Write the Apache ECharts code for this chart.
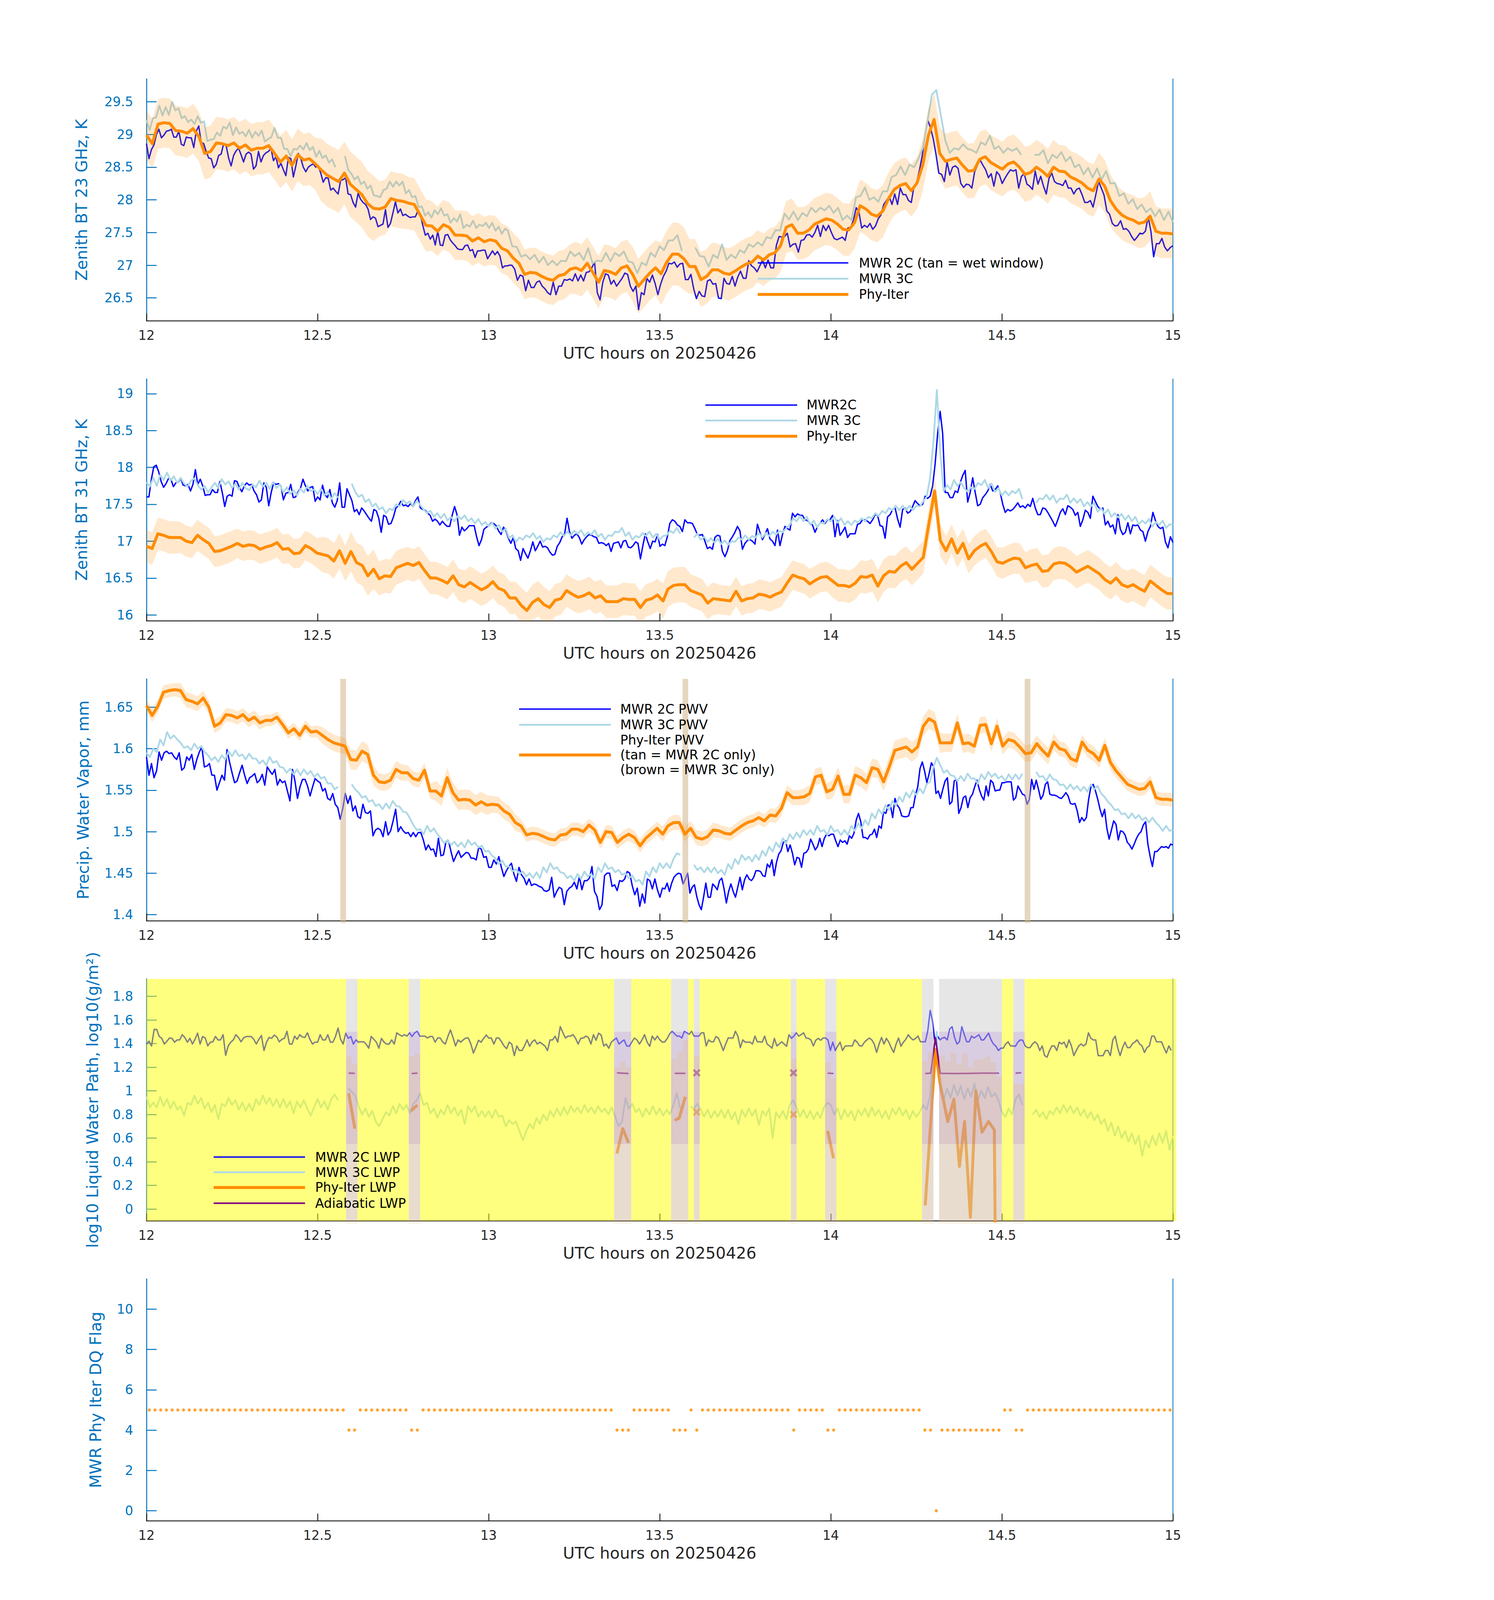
<!DOCTYPE html>
<html><head><meta charset="utf-8">
<script src="https://cdn.jsdelivr.net/npm/echarts@6/dist/echarts.min.js"></script>
<style>html,body{margin:0;padding:0;background:#fff;overflow:hidden}#c{width:3825px;height:6000px}</style>
</head><body><div id="c"></div>
<script>
// ---------------- DATA ----------------
// Panel 1: Zenith BT 23 GHz
const bt23_2c_a = [28.86,28.63,28.77,28.84,29.0,29.08,28.95,28.99,29.05,29.06,29.08,28.96,28.96,29.05,28.85,28.83,28.96,28.95,28.95,28.8,29.05,29.13,28.88,28.86,28.74,28.64,28.63,28.49,28.54,28.68,28.7,28.86,28.83,28.64,28.52,28.68,28.75,28.79,28.69,28.58,28.7,28.73,28.7,28.47,28.52,28.74,28.58,28.68,28.72,28.74,28.79,28.6,28.66,28.49,28.56,28.46,28.37,28.65,28.63,28.35,28.52,28.71,28.63,28.5,28.43,28.5,28.53,28.55,28.5,28.52,28.41,28.27,28.34,28.33,28.15,28.18,28.13,28.09,28.3,28.31,28.34,28.09,28.08,27.96,27.89,28.1,28.01,27.96,27.93,27.86,27.7,27.74,27.72,27.59,27.61,27.63,27.85,27.58,27.64,27.8,27.97,27.8,27.86,27.76,27.78,27.75,27.73,27.74,27.74,27.83,27.77,27.61,27.46,27.49,27.4,27.46,27.31,27.52,27.31,27.3,27.46,27.47,27.39,27.34,27.3,27.25,27.24,27.24,27.3,27.31,27.22,27.24,27.12,27.22,27.22,27.23,27.23,27.1,27.16,27.22,27.16,27.21,27.14,26.96,26.99,26.99];
const bt23_2c_b = [27.0,27.0,26.94,26.77,26.85,26.83,26.61,26.77,26.66,26.66,26.74,26.76,26.68,26.64,26.58,26.55,26.74,26.55,26.68,26.68,26.78,26.77,26.79,26.76,26.87,26.76,26.85,26.76,26.89,26.9,26.96,27.05,26.58,26.47,26.74,26.87,26.85,26.71,26.77,26.68,26.74,26.8,26.88,26.86,26.68,26.6,26.68,26.32,26.58,26.55,26.8,26.74,26.85,26.72,26.55,26.71,26.83,26.91,27.03,27.02,27.05,26.97,27.02,27.03,26.78,26.78,26.86,26.64,26.49,26.6,26.53,26.52,26.76,26.78,26.71,26.72,26.5,26.49,26.8,26.72,26.71,26.83,26.68,26.82,26.91,26.8,26.8,27.07,26.99,26.96,26.9,26.99,27.08,26.96,27.08,26.96,26.96,27.3,27.44,27.43,27.44,27.49,27.28,27.32,27.33,27.2,27.38,27.39,27.46,27.47,27.43,27.5,27.61,27.44,27.61,27.53,27.61,27.5,27.41,27.39,27.41,27.43,27.38,27.57,27.58,27.69,27.88,27.81,27.57,27.61,27.58,27.64,27.55,27.6,27.71,27.77,27.93,27.99,28.05,27.93,28.09,27.93,28.18,28.08,28.08,27.99,27.96,28.21,28.27,28.46,28.68,28.99,29.22,29.1,28.93,28.69,28.41,28.39,28.28,28.58,28.38,28.5,28.52,28.48,28.25,28.19,28.24,28.23,28.18,28.43,28.53,28.61,28.53,28.46,28.34,28.4,28.21,28.43,28.38,28.25,28.33,28.4,28.46,28.44,28.46,28.18,28.36,28.4,28.24,28.21,28.16,28.44,28.24,28.36,28.21,28.09,28.33,28.41,28.28,28.25,28.24,28.22,28.3,28.18,28.18,28.09,28.16,28.18,28.08,27.96,27.96,27.99,27.89,28.08,28.28,28.18,28.07,27.83,27.78,27.64,27.6,27.61,27.68,27.55,27.56,27.52,27.44,27.38,27.43,27.49,27.48,27.52,27.74,27.52,27.13,27.33,27.33,27.41,27.28,27.22,27.27,27.3];
const bt23_3c_a = [29.22,29.07,29.25,29.26,29.44,29.29,29.42,29.3,29.5,29.37,29.4,29.25,29.28,29.19,29.23,29.16,29.28,29.18,29.2,28.9,28.92,28.93,29.03,28.98,29.12,29.09,29.18,28.99,29.11,29.01,29.04,28.97,29.07,28.95,29.04,28.98,29.06,28.89,28.93,28.96,29.1,28.95,28.95,28.78,28.78,28.67,28.78,28.77,28.83,28.77,28.87,28.76,28.81,28.66,28.75,28.64,28.68,28.57,28.62,28.5,null,null,28.67,28.46,28.4,28.31,28.36,28.24,28.28,28.17,28.22,28.07,28.06,28.04,28.15,28.17,28.28,28.2,28.28,28.22,28.28,28.1,28.15,28.04,28.06,27.89,27.9,27.76,27.81,27.73,27.84,27.78,27.87,27.76,27.78,27.65,27.72,27.67,27.78,27.57,27.62,27.59,27.68,27.57,27.62,27.6,27.65,27.57,27.65,27.53,27.59,27.48,27.56];
const bt23_3c_b = [27.53,27.29,27.28,27.13,27.16,27.09,27.16,27.04,27.13,27.0,27.07,27.0,27.07,27.06,27.21,27.14,27.19,27.08,27.26,27.03,27.07,27.06,27.19,27.06,27.19,27.14,27.21,27.06,27.04,26.88,27.04,27.0,27.19,27.13,27.29,27.23,27.38,27.38,27.46,27.22,null,null,27.27,27.14,27.13,26.98,27.16,27.11,27.32,27.08,27.16,27.11,27.23,27.19,27.32,27.28,27.35,27.3,27.43,27.41,27.54,27.53,27.79,27.7,27.82,27.69,27.8,27.75,27.88,27.81,27.88,27.84,27.91,27.8,27.88,27.69,27.76,27.69,28.04,28.06,28.19,28.0,28.04,27.97,28.13,28.13,28.35,28.38,28.51,28.38,28.54,28.5,28.63,28.8,29.2,29.61,29.68,29.3,28.91,28.72,28.79,28.77,28.85,28.78,28.76,28.72,28.88,28.84,28.98,28.78,28.82,28.72,28.79,28.75,28.79,28.69,null,null,28.69,28.69,28.76,28.56,28.69,28.64,28.73,28.59,28.66,28.5,28.54,28.39,28.49,28.34,28.48,28.31,28.44,28.25,28.26,28.06,28.1,27.94,28.01,27.86,27.93,27.81,27.87,27.75,27.85,27.69,27.82,27.66];
const bt23_phy_a = [28.99,28.86,29.16,29.18,29.17,29.06,29.05,29.02,29.09,28.97,28.71,28.74,28.87,28.86,28.83,28.87,28.79,28.84,28.76,28.79,28.79,28.83,28.71,28.58,28.67,28.53,28.69,28.61,28.63,28.55,28.46,28.38,28.33,28.28,28.41,28.24,28.16,28.08,27.94,27.87,27.86,27.89,28.02,27.99,27.98,27.95,27.93,27.77,27.61,27.6,27.52,27.62,27.58,27.46,27.46,27.45,27.37,27.42,27.36,27.39,27.37,27.26,27.22];
const bt23_phy_b = [27.11,27.03,26.86,26.89,26.88,26.83,26.79,26.77,26.84,26.86,26.94,26.96,26.92,27.03,26.89,26.74,26.92,26.9,26.86,26.96,26.99,26.86,26.68,26.78,26.88,26.96,26.87,27.05,27.17,27.17,27.1,26.98,26.98,26.78,26.83,26.93,26.93,26.88,26.86,26.91,26.97,27.02,27.05,27.14,27.08,27.16,27.19,27.3,27.58,27.62,27.49,27.49,27.54,27.63,27.67,27.71,27.69,27.63,27.55,27.54,27.65,27.91,27.86,27.78,27.75,27.83,28.02,28.16,28.22,28.25,28.14,28.26,28.53,28.99,29.23,28.71,28.59,28.62,28.64,28.53,28.44,28.45,28.62,28.66,28.57,28.52,28.47,28.55,28.58,28.5,28.39,28.42,28.5,28.44,28.36,28.5,28.44,28.43,28.35,28.31,28.26,28.18,28.14,28.32,28.21,27.99,27.86,27.77,27.72,27.69,27.64,27.66,27.75,27.52,27.49,27.49,27.48];
const bt23_sigma = [0.38,0.38,0.4,0.4,0.4,0.4,0.48,0.5,0.42,0.4,0.38,0.38,0.38,0.38,0.38,0.4,0.4,0.42,0.48,0.42,0.4,0.4,0.4,0.4,0.4,0.4,0.4,0.4,0.42,0.42,0.42,0.42,0.4,0.4,0.38,0.38,0.38];

// Panel 2: Zenith BT 31 GHz
const bt31_2c_a = [17.6,17.6,17.84,18.01,18.03,17.94,17.81,17.73,17.78,17.85,17.84,17.74,17.79,17.8,17.85,17.76,17.75,17.77,17.68,17.77,17.97,17.77,17.84,17.75,17.62,17.63,17.63,17.7,17.66,17.66,17.81,17.66,17.47,17.61,17.63,17.61,17.82,17.81,17.73,17.67,17.75,17.79,17.76,17.77,17.68,17.63,17.53,17.56,17.79,17.73,17.48,17.66,17.79,17.77,17.78,17.75,17.56,17.65,17.66,17.77,17.59,17.6,17.67,17.72,17.84,17.75,17.68,17.73,17.74,17.54,17.6,17.56,17.76,17.63,17.59,17.7,17.52,17.46,17.55,17.79,17.46,17.46,17.71,17.63,17.55,17.4,17.43,17.36,17.45,17.41,17.36,17.31,17.27,17.43,17.41,17.31,17.12,17.35,17.33,17.23,17.24,17.33,17.45,17.48,17.54,17.48,17.49,17.47,17.51,17.47,17.55,17.6,17.45,17.43,17.42,17.38,17.35,17.27,17.3,17.27,17.22,17.27,17.23,17.2,17.2,17.35,17.47,17.36,17.08,17.19,17.14,17.17,17.21,17.21,17.21,17.06,16.94,17.02,17.16,17.19,17.21,17.25,17.24,17.21,17.14,17.09,17.19,17.14,17.04,16.97,17.05,16.9,16.87,16.74,16.9,16.83,16.77,16.87,16.99,16.87,16.93,17.0,16.92,16.93,16.91,16.85,16.81,16.82,16.93,16.98,17.06,17.1,17.31,17.13,17.04,17.08,17.1,17.05,16.96,17.02,17.06,17.09,17.08,17.06,17.05,16.97,16.98,16.97,16.94,16.97,16.86,16.97,16.98,16.99,16.91,17.0,17.01,16.92,16.91,16.94,16.99,16.97,16.76,16.94,17.1,16.99,16.9,17.0,16.99,17.09,16.93,16.96];
const bt31_2c_b = [16.94,17.06,17.24,17.29,17.27,17.22,17.2,17.13,17.29,17.25,17.25,17.24,17.17,17.09,17.08,17.09,17.0,16.9,16.92,16.89,17.05,17.08,17.07,16.86,16.79,16.87,17.01,17.06,17.12,17.2,17.14,16.89,16.97,17.01,17.02,17.0,16.96,17.23,17.12,17.02,17.09,17.17,17.03,17.0,16.94,17.15,16.94,17.09,17.2,17.17,17.15,17.38,17.33,17.37,17.35,17.35,17.29,17.28,17.24,17.22,17.12,17.2,17.24,17.29,17.24,17.29,17.29,17.35,17.06,17.28,17.08,17.13,17.19,17.05,17.1,17.1,17.1,17.23,17.24,17.29,17.29,17.27,17.24,17.29,17.36,17.35,17.21,17.2,17.04,17.33,17.36,17.43,17.45,17.3,17.19,17.43,17.45,17.38,17.4,17.47,17.55,17.51,17.48,17.5,17.61,17.58,17.61,17.75,18.05,18.46,18.76,18.46,17.66,17.66,17.59,17.59,17.68,17.66,17.79,17.89,17.96,17.53,17.66,17.86,17.66,17.48,17.5,17.59,17.63,17.68,17.77,17.68,17.7,17.75,17.66,17.5,17.39,17.43,17.41,17.43,17.47,17.52,17.46,17.48,17.45,17.5,17.47,17.58,17.45,17.36,17.36,17.45,17.44,17.39,17.33,17.27,17.2,17.29,17.39,17.44,17.36,17.48,17.46,17.43,17.35,17.39,17.2,17.29,17.42,17.39,17.31,17.61,17.54,17.47,17.43,17.45,17.22,17.27,17.19,17.22,17.1,17.36,17.16,17.09,17.12,17.25,17.1,17.22,17.21,17.22,17.15,17.13,17.0,17.13,17.2,17.39,17.28,17.2,17.17,17.19,16.99,16.91,17.06,16.98];
const bt31_3c = [17.8,17.74,17.86,17.75,17.9,17.83,17.93,17.82,17.88,17.79,
17.86,17.78,17.74,17.82,17.85,17.76,17.7,17.75,17.66,17.73,
17.79,17.72,17.84,17.77,17.81,17.72,17.78,17.7,17.79,17.72,
17.69,17.77,17.73,17.82,17.74,17.79,17.71,17.8,17.72,17.77,
17.66,17.73,17.64,17.69,17.62,17.71,17.66,17.75,17.68,17.7,
17.64,17.71,17.62,17.67,17.57,17.65,17.59,null,null,null,
17.78,17.67,17.6,17.63,17.53,17.57,17.47,17.51,17.43,17.46,
17.38,17.44,17.42,17.5,17.47,17.56,17.51,17.54,17.47,17.55,
17.49,17.43,17.38,17.41,17.33,17.38,17.31,17.37,17.28,17.33,
17.27,17.34,17.3,17.35,17.27,17.31,17.24,17.3,17.22,17.26,
17.2,17.25,17.17,17.22,17.13,17.17,17.04,17.08,16.99,17.05,
17.02,17.08,17.05,17.11,17.03,17.07,16.99,17.04,17.02,17.08,
17.05,17.12,17.07,17.13,17.08,17.14,17.1,17.15,17.07,17.12,
17.09,17.15,17.06,17.1,17.02,17.08,17.07,17.13,17.12,17.18,
17.07,17.12,17.02,17.07,17.05,17.11,17.07,17.13,17.05,17.1,
17.02,17.07,17.08,17.14,17.11,17.18,17.1,null,null,null,
17.05,17.1,17.02,17.06,16.99,17.04,16.98,17.03,16.96,17.01,
16.95,17.0,16.99,17.05,17.02,17.08,17.02,17.07,17.05,17.11,
17.05,17.11,17.07,17.13,17.09,17.14,17.12,17.18,17.22,17.31,
17.27,17.34,17.27,17.33,17.22,17.28,17.19,17.25,17.24,17.3,
17.27,17.33,17.25,17.31,17.22,17.27,17.22,17.28,17.25,17.31,
17.27,17.33,17.31,17.38,17.34,17.41,17.38,17.45,17.42,17.48,
17.42,17.48,17.42,17.48,17.42,17.48,17.47,17.54,17.6,17.85,
18.35,19.05,18.2,17.68,17.76,17.7,17.83,17.75,17.8,17.72,
17.67,17.73,17.71,17.79,17.76,17.83,17.72,17.78,17.67,17.72,
17.62,17.68,17.62,17.68,17.65,17.71,17.57,null,null,null,
17.52,17.58,17.57,17.63,17.56,17.62,17.52,17.58,17.57,17.63,
17.52,17.58,17.52,17.57,17.47,17.53,17.47,17.52,17.4,17.45,
17.37,17.43,17.33,17.38,17.32,17.37,17.29,17.35,17.27,17.33,
17.23,17.28,17.24,17.3,17.2,17.26,17.22,17.28,17.18,17.23,
17.22];
const bt31_phy_a = [16.93,16.9,17.1,17.08,17.05,17.05,17.05,17.0,16.98,17.08,17.02,16.97,16.86,16.87,16.9,16.93,16.97,16.93,16.95,16.94,16.89,16.92,16.94,16.98,16.89,16.9,16.83,16.84,16.94,16.9,16.84,16.82,16.8,16.73,16.87,16.7,16.86,16.71,16.67,16.53,16.62,16.49,16.53,16.52,16.64,16.67,16.7,16.67,16.71,16.6,16.5,16.5,16.47,16.43,16.53,16.41,16.38,16.44,16.39,16.34,16.38,16.45,16.36,16.33,16.23,16.23,16.13,16.06,16.17,16.22,16.14,16.1,16.2,16.22,16.33,16.28,16.24,16.26,16.3,16.23,16.26,16.18,16.18,16.18,16.22,16.21,16.21,16.1,16.2,16.22,16.27,16.19];
const bt31_phy_b = [16.35,16.4,16.41,16.41,16.33,16.3,16.27,16.16,16.22,16.21,16.2,16.19,16.32,16.19,16.22,16.23,16.28,16.27,16.24,16.28,16.31,16.43,16.54,16.51,16.49,16.42,16.47,16.51,16.52,16.46,16.4,16.4,16.38,16.43,16.52,16.51,16.54,16.39,16.53,16.59,16.58,16.66,16.71,16.62,16.7,16.78,17.24,17.68,17.01,16.87,17.03,16.84,16.97,16.76,16.87,16.93,16.97,16.86,16.72,16.7,16.74,16.77,16.76,16.64,16.67,16.69,16.59,16.6,16.69,16.71,16.7,16.65,16.58,16.62,16.66,16.61,16.56,16.48,16.43,16.5,16.41,16.38,16.41,16.36,16.32,16.46,16.4,16.34,16.29,16.29];
const bt31_sigma = [0.22,0.21,0.21,0.2,0.2,0.2,0.24,0.27,0.23,0.22,0.22,0.22,0.22,0.24,0.22,0.22,0.22,0.22,0.24,0.22,0.2,0.2,0.2,0.2,0.22,0.22,0.22,0.22,0.2,0.2,0.21,0.22,0.22,0.22,0.22,0.22,0.22];

// Panel 3: PWV
const pwv_2c_a = [1.59,1.568,1.582,1.565,1.573,1.596,1.586,1.595,1.597,1.594,1.595,1.59,1.587,1.595,1.574,1.577,1.59,1.586,1.593,1.575,1.587,1.596,1.602,1.578,1.579,1.582,1.568,1.568,1.55,1.559,1.568,1.562,1.599,1.584,1.571,1.559,1.561,1.571,1.58,1.568,1.558,1.565,1.567,1.57,1.559,1.562,1.569,1.556,1.578,1.573,1.569,1.575,1.556,1.563,1.559,1.561,1.549,1.537,1.575,1.561,1.54,1.554,1.563,1.563,1.555,1.543,1.554,1.564,1.561,1.559,1.549,1.552,1.54,1.538,1.546,1.533,1.529,1.515,1.528,1.546,1.534,1.543,1.525,1.531,1.518,1.516,1.533,1.523,1.522,1.525,1.495,1.502,1.504,1.502,1.494,1.512,1.496,1.501,1.513,1.527,1.5,1.506,1.501,1.498,1.499,1.494,1.499,1.494,1.499,1.499,1.49,1.478,1.484,1.478,1.479,1.47,1.492,1.471,1.472,1.488,1.489,1.476,1.464,1.471,1.477,1.469,1.472,1.475,1.474,1.468,1.468,1.466,1.481,1.479,1.469,1.47,1.457,1.457,1.466,1.461,1.47,1.457,1.446,1.453,1.458,1.462,1.449,1.44,1.457,1.448,1.444,1.436,1.443,1.435,1.437,1.436,1.434,1.433,1.429,1.428,1.43,1.445,1.421,1.428,1.433,1.431,1.412,1.428,1.432,1.434,1.439,1.431,1.446,1.43,1.441,1.441,1.444,1.458,1.428,1.422,1.406,1.412,1.447,1.45,1.45,1.434,1.436,1.429,1.441,1.44,1.443,1.452,1.45,1.435,1.424,1.432,1.41,1.425,1.414,1.443,1.441,1.431,1.443,1.43,1.421,1.432];
const pwv_2c_b = [1.431,1.438,1.428,1.438,1.445,1.448,1.45,1.449,1.437,1.443,1.45,1.426,1.433,1.436,1.422,1.412,1.406,1.421,1.438,1.421,1.421,1.437,1.434,1.43,1.441,1.444,1.431,1.414,1.428,1.437,1.428,1.421,1.433,1.445,1.43,1.442,1.448,1.443,1.441,1.445,1.453,1.453,1.452,1.447,1.446,1.461,1.457,1.466,1.447,1.463,1.473,1.477,1.487,1.489,1.476,1.484,1.474,1.46,1.469,1.468,1.457,1.474,1.475,1.479,1.491,1.485,1.478,1.482,1.492,1.482,1.492,1.497,1.495,1.497,1.497,1.489,1.482,1.49,1.487,1.489,1.485,1.495,1.492,1.498,1.514,1.522,1.512,1.493,1.493,1.491,1.496,1.497,1.503,1.493,1.507,1.504,1.524,1.522,1.532,1.532,1.517,1.54,1.532,1.528,1.519,1.518,1.518,1.519,1.529,1.529,1.544,1.554,1.576,1.584,1.573,1.559,1.57,1.583,1.578,1.546,1.549,1.54,1.551,1.561,1.565,1.533,1.536,1.561,1.563,1.522,1.529,1.541,1.543,1.529,1.541,1.545,1.554,1.562,1.551,1.543,1.538,1.555,1.543,1.562,1.559,1.549,1.55,1.55,1.559,1.559,1.56,1.56,1.56,1.538,1.541,1.555,1.55,1.545,1.544,1.533,1.539,1.563,1.551,1.562,1.551,1.539,1.544,1.557,1.56,1.545,1.544,1.544,1.543,1.541,1.54,1.543,1.547,1.543,1.534,1.533,1.534,1.525,1.511,1.517,1.513,1.517,1.539,1.554,1.557,1.549,1.539,1.527,1.518,1.527,1.504,1.491,1.502,1.513,1.509,1.49,1.501,1.5,1.496,1.487,1.484,1.479,1.485,1.492,1.497,1.5,1.508,1.512,1.485,1.47,1.458,1.476,1.476,1.479,1.482,1.481,1.482,1.48,1.485,1.484];
const pwv_3c = [1.595,1.59,1.6,1.596,1.611,1.604,1.62,1.612,1.616,1.611,
1.607,1.601,1.603,1.598,1.606,1.6,1.603,1.596,1.592,1.586,
1.59,1.584,1.592,1.587,1.597,1.591,1.598,1.591,1.593,1.587,
1.594,1.588,1.588,1.582,1.586,1.58,1.59,1.583,1.585,1.578,
1.577,1.571,1.576,1.569,1.575,1.568,1.575,1.569,1.573,1.566,
1.57,1.564,1.566,1.558,1.558,1.551,1.554,null,null,null,
1.557,1.551,1.547,1.541,1.543,1.536,1.538,1.531,1.533,1.527,
1.534,1.528,1.537,1.531,1.53,1.524,1.523,1.516,1.508,1.502,
1.503,1.497,1.507,1.5,1.504,1.497,1.492,1.486,1.49,1.484,
1.488,1.482,1.487,1.481,1.49,1.484,1.487,1.481,1.483,1.476,
1.477,1.471,1.468,1.461,1.465,1.458,1.458,1.452,1.455,1.449,
1.452,1.446,1.45,1.444,1.451,1.444,1.457,1.451,1.462,1.455,
1.457,1.451,1.45,1.444,1.447,1.441,1.449,1.443,1.452,1.446,
1.449,1.443,1.457,1.451,1.462,1.455,1.457,1.451,1.454,1.448,
1.45,1.444,1.447,1.44,1.442,1.436,1.452,1.446,1.457,1.451,
1.462,1.456,1.462,1.456,1.467,1.474,1.472,null,null,null,
1.46,1.454,1.457,1.451,1.457,1.451,1.457,1.45,1.454,1.448,
1.461,1.455,1.467,1.461,1.472,1.466,1.47,1.464,1.472,1.466,
1.477,1.471,1.482,1.476,1.487,1.481,1.492,1.486,1.497,1.491,
1.499,1.493,1.502,1.496,1.502,1.496,1.507,1.5,1.502,1.496,
1.507,1.5,1.502,1.496,1.502,1.496,1.507,1.501,1.51,1.504,
1.514,1.508,1.522,1.516,1.527,1.521,1.532,1.526,1.537,1.531,
1.542,1.536,1.547,1.541,1.55,1.544,1.552,1.546,1.557,1.56,
1.578,1.589,1.58,1.571,1.574,1.568,1.567,1.561,1.567,1.561,
1.57,1.564,1.564,1.558,1.569,1.563,1.572,1.566,1.57,1.564,
1.567,1.561,1.569,1.563,1.569,1.563,1.57,null,null,null,
1.572,1.566,1.567,1.561,1.569,1.563,1.562,1.556,1.557,1.551,
1.557,1.551,1.555,1.549,1.554,1.548,1.557,1.551,1.555,1.546,
1.542,1.536,1.532,1.526,1.527,1.521,1.522,1.516,1.522,1.516,
1.52,1.514,1.517,1.511,1.517,1.511,1.507,1.501,1.507,1.501,
1.502];
const pwv_phy_a = [1.652,1.64,1.651,1.668,1.67,1.671,1.67,1.659,1.657,1.654,1.661,1.65,1.627,1.631,1.641,1.64,1.637,1.641,1.634,1.638,1.631,1.634,1.634,1.638,1.629,1.619,1.624,1.616,1.627,1.62,1.621,1.616,1.611,1.607,1.605,1.603,1.587,1.586,1.597,1.593,1.568,1.56,1.559,1.562,1.575,1.571,1.571,1.564,1.562,1.574,1.549,1.549,1.543,1.565,1.547,1.538,1.539,1.538,1.532,1.536,1.532,1.533,1.532,1.525,1.521,1.511,1.507,1.496,1.498,1.497,1.494,1.491,1.49,1.496,1.497,1.503,1.503,1.5,1.508,1.502,1.487,1.5,1.499,1.487,1.493,1.497,1.493,1.483,1.492,1.498,1.504,1.497];
const pwv_phy_b = [1.507,1.511,1.511,1.497,1.504,1.493,1.491,1.494,1.502,1.501,1.498,1.497,1.502,1.507,1.511,1.513,1.517,1.513,1.52,1.519,1.528,1.547,1.541,1.541,1.542,1.546,1.566,1.568,1.548,1.551,1.567,1.545,1.545,1.568,1.565,1.559,1.577,1.575,1.56,1.578,1.598,1.6,1.602,1.596,1.602,1.627,1.636,1.632,1.607,1.607,1.607,1.631,1.606,1.607,1.603,1.628,1.629,1.606,1.627,1.603,1.611,1.609,1.602,1.594,1.595,1.606,1.598,1.591,1.608,1.6,1.598,1.588,1.585,1.608,1.598,1.594,1.586,1.604,1.583,1.573,1.565,1.557,1.554,1.551,1.552,1.56,1.541,1.539,1.539,1.538];
const pwv_sigma = [0.008,0.009,0.008,0.008,0.007,0.007,0.01,0.012,0.01,0.009,0.012,0.012,0.01,0.008,0.008,0.008,0.008,0.008,0.009,0.009,0.008,0.008,0.009,0.01,0.011,0.011,0.012,0.012,0.011,0.01,0.01,0.01,0.009,0.009,0.008,0.008,0.008];
const pwvTanMinutes = [34, 94, 154];

// Panel 4: log10 LWP
const lwp_2c_a = [1.396,1.42,1.38,1.52,1.52,1.46,1.444,1.396,1.42,1.447,1.444,1.412,1.431,1.431,1.475,1.452,1.412,1.444,1.396,1.436,1.488,1.396,1.46,1.447,1.38,1.412,1.415,1.46,1.431,1.431,1.475,1.301,1.38,1.412,1.431,1.475,1.452,1.415,1.447,1.46,1.46,1.46,1.436,1.396,1.436,1.468,1.341,1.412,1.452,1.444,1.472,1.456,1.415,1.436,1.444,1.504,1.396,1.396,1.463,1.436,1.475,1.455,1.452,1.491,1.436,1.396,1.412,1.412,1.475,1.431,1.431,1.475,1.412,1.412,1.46,1.531,1.436,1.396,1.488,1.444,1.46,1.396,1.431,1.412,1.415,1.415,1.396,1.361,1.46,1.436,1.412,1.361,1.444,1.412,1.396,1.396,1.431,1.396,1.491,1.475,1.463,1.475,1.463,1.491,1.46,1.491,1.504,1.463,1.463,1.463,1.447,1.46,1.46,1.412,1.447,1.447,1.412,1.396,1.46,1.515,1.452,1.38,1.431,1.412,1.431,1.447,1.447,1.396,1.32,1.372,1.428,1.412,1.444,1.472,1.447,1.447,1.396,1.447,1.447,1.415,1.38,1.357,1.412,1.396,1.298,1.38,1.341,1.341,1.38,1.431,1.377,1.415,1.431,1.396,1.412,1.396,1.38,1.341,1.431,1.431,1.463,1.412,1.543,1.494,1.447,1.463,1.463,1.475,1.444,1.396,1.444,1.447,1.463,1.452,1.396,1.475,1.428,1.488,1.472,1.38,1.396,1.361,1.412,1.431,1.447,1.396,1.415,1.431,1.38,1.377,1.412,1.447,1.431,1.396,1.431,1.475,1.412,1.377,1.463,1.431,1.463,1.431,1.412];
const lwp_2c_b = [1.415,1.444,1.483,1.504,1.483,1.463,1.463,1.447,1.504,1.491,1.479,1.504,1.463,1.463,1.463,1.491,1.491,1.38,1.431,1.415,1.415,1.46,1.447,1.396,1.341,1.396,1.447,1.447,1.447,1.504,1.463,1.365,1.431,1.412,1.412,1.412,1.396,1.463,1.415,1.415,1.412,1.463,1.396,1.38,1.361,1.444,1.38,1.396,1.415,1.396,1.377,1.475,1.444,1.463,1.491,1.463,1.475,1.491,1.447,1.444,1.431,1.38,1.428,1.444,1.428,1.447,1.447,1.431,1.341,1.412,1.341,1.38,1.412,1.341,1.377,1.38,1.38,1.38,1.431,1.412,1.38,1.38,1.412,1.431,1.447,1.431,1.396,1.325,1.396,1.452,1.396,1.444,1.412,1.365,1.325,1.396,1.447,1.377,1.412,1.436,1.475,1.447,1.431,1.444,1.463,1.415,1.415,1.415,1.507,1.681,1.586,1.396,1.463,1.431,1.447,1.452,1.431,1.523,1.543,1.452,1.396,1.415,1.543,1.475,1.415,1.415,1.463,1.447,1.46,1.475,1.431,1.431,1.46,1.488,1.431,1.396,1.377,1.341,1.361,1.361,1.396,1.415,1.38,1.38,1.377,1.412,1.431,1.428,1.38,1.365,1.365,1.396,1.415,1.396,1.341,1.38,1.298,1.285,1.341,1.38,1.38,1.341,1.412,1.396,1.412,1.365,1.431,1.38,1.298,1.341,1.38,1.396,1.38,1.396,1.491,1.444,1.431,1.431,1.298,1.298,1.298,1.341,1.341,1.298,1.431,1.463,1.365,1.298,1.365,1.412,1.365,1.365,1.396,1.412,1.431,1.396,1.38,1.325,1.365,1.38,1.463,1.463,1.415,1.415,1.415,1.365,1.32,1.38,1.341];
const lwp_3c = [0.95,0.86,0.9,0.86,0.95,0.87,0.93,0.85,0.91,0.84,
0.87,0.79,0.9,0.88,0.96,0.89,0.94,0.85,0.9,0.82,
0.88,0.76,0.89,0.87,0.94,0.88,0.92,0.84,0.9,0.83,
0.89,0.83,0.93,0.88,0.96,0.89,0.94,0.87,0.93,0.86,
0.93,0.86,0.91,0.81,0.91,0.86,0.92,0.85,0.79,0.86,
0.93,0.86,0.91,0.84,0.93,0.97,0.92,null,null,1.02,
0.99,0.96,0.87,0.8,0.85,0.78,0.83,0.74,0.7,0.76,
0.82,0.79,0.87,0.81,0.89,0.84,0.88,0.81,0.89,0.92,
0.98,0.88,0.9,0.81,0.85,0.77,0.84,0.8,0.88,0.81,
0.86,0.79,0.84,0.72,0.87,0.82,0.87,0.78,0.83,0.78,
0.83,0.77,0.84,0.78,0.79,0.7,0.75,0.72,0.74,0.66,
0.58,0.66,0.72,0.68,0.77,0.72,0.8,0.75,0.83,0.78,
0.85,0.79,0.86,0.8,0.87,0.82,0.86,0.81,0.88,0.82,
0.86,0.81,0.87,0.82,0.85,0.8,0.86,0.78,0.7,0.74,
0.94,0.85,0.89,0.82,0.85,0.78,0.85,0.8,0.87,0.8,
0.85,0.79,0.84,0.8,0.88,0.98,0.85,null,null,0.87,
0.85,0.89,0.84,0.78,0.84,0.77,0.83,0.78,0.84,0.77,
0.84,0.76,0.82,0.72,0.84,0.78,0.85,0.79,0.84,0.71,
0.83,0.79,0.85,0.6,0.82,0.77,0.83,0.76,0.88,0.92,
0.86,0.78,0.84,0.77,0.83,0.76,0.82,0.77,0.86,0.9,
0.88,0.8,0.85,0.76,0.84,0.78,0.83,0.75,0.84,0.79,
0.85,0.78,0.86,0.79,0.84,0.77,0.83,0.76,0.85,0.8,
0.86,0.79,0.84,0.76,0.83,0.78,0.82,0.88,0.84,0.95,
1.35,1.5,1.0,0.92,1.02,0.94,1.05,0.96,1.04,0.93,
1.02,0.95,1.06,0.92,1.0,0.94,1.03,0.95,0.98,0.92,
0.82,0.78,0.85,0.8,0.93,0.97,0.88,null,null,0.8,
0.84,0.78,0.82,0.76,0.83,0.8,0.86,0.81,0.88,0.82,
0.87,0.81,0.86,0.79,0.84,0.77,0.82,0.75,0.8,0.72,
0.76,0.66,0.73,0.62,0.7,0.6,0.66,0.57,0.64,0.55,
0.62,0.45,0.58,0.52,0.62,0.54,0.64,0.56,0.66,0.5,
0.62];
const phyLwpT = [12.591,12.609,null,12.773,12.792,null,13.375,13.392,13.409,null,13.544,13.557,13.575,null,13.991,14.008,null,14.276,14.306,14.32,14.342,14.36,14.376,14.391,14.408,14.424,14.442,14.461,14.478,14.481];
const phyLwpV = [0.98,0.68,null,0.83,0.88,null,0.47,0.68,0.56,null,0.75,0.77,0.95,null,0.66,0.43,null,0.03,1.35,1.05,0.74,0.93,0.36,0.74,-0.07,1.0,0.65,0.74,0.67,-0.35];
const adiLwpT = [12.591,12.609,null,12.775,12.792,null,13.375,13.409,null,13.544,13.575,null,13.991,14.008,null,14.276,14.292,14.306,14.32,14.36,14.4,14.44,14.492,null,14.54,14.557];
const adiLwpV = [1.15,1.148,null,1.146,1.15,null,1.152,1.146,null,1.148,1.148,null,1.15,1.146,null,1.146,1.15,1.45,1.148,1.146,1.147,1.15,1.15,null,1.15,1.153];
const singleT = [13.608, 13.891];
const phySingleV = [0.82, 0.8];
const adiSingleV = [1.152, 1.152];
const lwpShadeTop = [1.29,1.23,1.29,1.31,1.2,1.25,1.2,1.27,1.33,1.43,1.29,1.27,1.24,1.1,1.25,1.33,1.3,1.25,1.32,1.23,1.32,1.2,1.26,1.27,1.29,1.24,1.12,1.06,1.06];

// Panel 5: DQ flag, one per minute
const dqFlag = [5,5,5,5,5,5,5,5,5,5, 5,5,5,5,5,5,5,5,5,5, 5,5,5,5,5,5,5,5,5,5, 5,5,5,5,5,4,4,5,5,5,
5,5,5,5,5,5,4,4,5,5, 5,5,5,5,5,5,5,5,5,5, 5,5,5,5,5,5,5,5,5,5, 5,5,5,5,5,5,5,5,5,5,
5,5,4,4,4,5,5,5,5,5, 5,5,4,4,4,5,4,5,5,5, 5,5,5,5,5,5,5,5,5,5, 5,5,5,4,5,5,5,5,5,4,
4,5,5,5,5,5,5,5,5,5, 5,5,5,5,5,5,4,4,0,4, 4,4,4,4,4,4,4,4,4,4, 5,5,4,4,5,5,5,5,5,5,
5,5,5,5,5,5,5,5,5,5, 5,5,5,5,5,5,5,5,5,5, 5];

// Axis tick labels
const xTicks = [12, 12.5, 13, 13.5, 14, 14.5, 15];
const yTicks = [
  [26.5, 27, 27.5, 28, 28.5, 29, 29.5],
  [16, 16.5, 17, 17.5, 18, 18.5, 19],
  [1.4, 1.45, 1.5, 1.55, 1.6, 1.65],
  [0, 0.2, 0.4, 0.6, 0.8, 1, 1.2, 1.4, 1.6, 1.8],
  [0, 2, 4, 6, 8, 10]
];
const yRanges = [[26.15, 29.85], [15.92, 19.2], [1.3926, 1.684], [-0.1, 1.947], [-0.5, 11.5]];
const yNames = ['Zenith BT 23 GHz, K', 'Zenith BT 31 GHz, K', 'Precip. Water Vapor, mm', 'log10 Liquid Water Path, log10(g/m²)', 'MWR Phy Iter DQ Flag'];

// ---------------- BUILD ----------------
// The browser window may be shorter than the 6000 px design; scale the vertical layout to fit it.
const VIEW_H = Math.min(6000, window.innerHeight || 6000);
const S = VIEW_H / 6000;
const FS = S < 0.999 ? 0.9 : 1;
const fs = v => Math.round(v * FS);
const Y = v => v * S;
document.getElementById('c').style.height = VIEW_H + 'px';

const FONT = 'DejaVu Sans';
const AX_BLUE = '#0072BD', AX_DARK = '#262626';
const C2C = '#0000FF', C3C = '#ADD8E6', CPHY = '#FF8C00', CADI = '#800080';
const GL = 375, GW = 2628, GH = 907;
const tops = [296, 1421, 2546, 3671, 4796];
const nameGaps = [146, 146, 142, 118, 110];
const TICK_FS = fs(37), NAME_FS = fs(46), LEG_FS = fs(37);

const spread = (vals, t0, t1) => vals.map((v, i) => [t0 + (t1 - t0) * i / (vals.length - 1), v]);
const pairs = (T, V) => T.map((t, i) => [t, V[i]]);

const grids = [], xAxes = [], yAxes = [], series = [];
for (let i = 0; i < 5; i++) {
  grids.push({left: GL, top: Y(tops[i]), width: GW, height: Y(GH), containLabel: false, show: false});
  xAxes.push({
    type: 'value', gridIndex: i, min: 12, max: 15, interval: 0.5,
    axisLine: {show: true, onZero: false, lineStyle: {color: AX_DARK, width: 2.5}},
    axisTick: {show: true, inside: true, length: Math.max(12, Y(27)), customValues: xTicks, lineStyle: {color: AX_DARK, width: 2.5}},
    axisLabel: {color: AX_DARK, fontSize: TICK_FS, fontFamily: FONT, margin: Math.max(8, Y(54) - TICK_FS / 2), customValues: xTicks, formatter: v => String(v)},
    splitLine: {show: false},
    name: 'UTC hours on 20250426', nameLocation: 'middle', nameGap: Math.max(TICK_FS + 14, Y(121) - NAME_FS / 2),
    nameTextStyle: {color: AX_DARK, fontSize: NAME_FS, fontFamily: FONT}
  });
  yAxes.push({
    type: 'value', gridIndex: i, position: 'left', min: yRanges[i][0], max: yRanges[i][1],
    axisLine: {show: true, onZero: false, lineStyle: {color: AX_BLUE, width: 2.5}},
    axisTick: {show: true, inside: true, length: 26, customValues: yTicks[i], lineStyle: {color: AX_BLUE, width: 2.5}},
    axisLabel: {color: AX_BLUE, fontSize: TICK_FS, fontFamily: FONT, margin: 34, customValues: yTicks[i], formatter: v => String(v)},
    splitLine: {show: false},
    name: yNames[i], nameLocation: 'middle', nameGap: nameGaps[i],
    nameTextStyle: {color: AX_BLUE, fontSize: NAME_FS, fontFamily: FONT}
  });
  yAxes.push({
    type: 'value', gridIndex: i, position: 'right', min: yRanges[i][0], max: yRanges[i][1],
    axisLine: {show: true, onZero: false, lineStyle: {color: AX_BLUE, width: 2}},
    axisTick: {show: false}, axisLabel: {show: false}, splitLine: {show: false}
  });
}

function ln(gi, data, color, width, z) {
  return {type: 'line', xAxisIndex: gi, yAxisIndex: 2 * gi, data, symbol: 'none', showSymbol: false,
    silent: true, animation: false, clip: true, connectNulls: false, z: z,
    lineStyle: {color, width, join: 'round'}, itemStyle: {color}};
}
function band(gi, pts, sig) {
  return {type: 'custom', xAxisIndex: gi, yAxisIndex: 2 * gi, silent: true, animation: false, clip: true, z: 4,
    data: [pts[0]],
    renderItem: (params, api) => {
      const up = [], lo = [];
      pts.forEach(([t, v]) => {
        if (v == null) return;
        const s = sig[Math.max(0, Math.min(sig.length - 1, Math.floor((t - 12) * 12 + 1e-9)))];
        up.push(api.coord([t, v + s])); lo.push(api.coord([t, v - s]));
      });
      return {type: 'polygon', shape: {points: up.concat(lo.reverse())}, style: {fill: 'rgba(255,140,0,0.2)'}};
    }};
}
const LW2 = 3.5, LW3 = 4.5, LWP = 7.5;

// Panel 1
const p1phy = spread(bt23_phy_a, 12, 13.055).concat(spread(bt23_phy_b, 13.072, 15.0));
series.push(ln(0, spread(bt23_2c_a, 12, 13.055).concat(spread(bt23_2c_b, 13.06, 15.0)), C2C, LW2, 2));
series.push(ln(0, spread(bt23_3c_a, 12, 13.048).concat(spread(bt23_3c_b, 13.056, 15.0)), C3C, LW3, 3));
series.push(band(0, p1phy, bt23_sigma));
series.push(ln(0, p1phy, CPHY, LWP, 5));

// Panel 2
const p2phy = spread(bt31_phy_a, 12, 13.51).concat(spread(bt31_phy_b, 13.524, 15.0));
series.push(ln(1, spread(bt31_2c_a, 12, 13.508).concat(spread(bt31_2c_b, 13.515, 15.0)), C2C, LW2, 2));
series.push(ln(1, spread(bt31_3c, 12, 15), C3C, LW3, 3));
series.push(band(1, p2phy, bt31_sigma));
series.push(ln(1, p2phy, CPHY, LWP, 5));

// Panel 3
const p3phy = spread(pwv_phy_a, 12, 13.509).concat(spread(pwv_phy_b, 13.524, 15.0));
series.push(ln(2, spread(pwv_2c_a, 12, 13.508).concat(spread(pwv_2c_b, 13.515, 15.0)), C2C, LW2, 2));
series.push(ln(2, spread(pwv_3c, 12, 15), C3C, LW3, 3));
series.push({type: 'custom', xAxisIndex: 2, yAxisIndex: 4, silent: true, animation: false, clip: false, z: 4,
  data: pwvTanMinutes.map(m => [12 + m / 60, 1.5]),
  renderItem: (params, api) => {
    const m = pwvTanMinutes[params.dataIndex];
    const a = api.coord([12 + m / 60, 1.684]), b = api.coord([12 + (m + 1) / 60, 1.39]);
    return {type: 'rect', shape: {x: a[0], y: a[1], width: b[0] - a[0], height: b[1] - a[1]}, style: {fill: 'rgba(210,180,140,0.55)'}};
  }});
series.push(band(2, p3phy, pwv_sigma));
series.push(ln(2, p3phy, CPHY, LWP, 5));

// Panel 4
const xSym = 'path://M0,2 L2,0 L5,3 L8,0 L10,2 L7,5 L10,8 L8,10 L5,7 L2,10 L0,8 L3,5 Z';
series.push(ln(3, spread(lwp_2c_a, 12, 13.508).concat(spread(lwp_2c_b, 13.515, 14.995)), C2C, LW2, 2));
series.push(ln(3, spread(lwp_3c, 12, 15), C3C, LW3, 2));
series.push(ln(3, pairs(phyLwpT, phyLwpV), CPHY, LWP, 3));
series.push(ln(3, pairs(adiLwpT, adiLwpV), CADI, 4, 3));
series.push({type: 'scatter', xAxisIndex: 3, yAxisIndex: 6, silent: true, animation: false, z: 3,
  data: pairs(singleT, phySingleV), symbol: xSym, symbolSize: 20, itemStyle: {color: CPHY}});
series.push({type: 'scatter', xAxisIndex: 3, yAxisIndex: 6, silent: true, animation: false, z: 3,
  data: pairs(singleT, adiSingleV), symbol: xSym, symbolSize: 20, itemStyle: {color: CADI}});

const runs = [];
dqFlag.forEach((f, m) => { const r = runs[runs.length - 1]; if (r && r.f === f) r.m1 = m + 1; else runs.push({f, m0: m, m1: m + 1}); });
const shadeTop = {}; let kk = 0;
dqFlag.forEach((f, m) => { if (f === 4) shadeTop[m] = lwpShadeTop[kk++]; });
const Y4 = yRanges[3];
series.push({type: 'custom', xAxisIndex: 3, yAxisIndex: 6, silent: true, animation: false, clip: false, z: 6,
  data: runs.map(r => [Math.min(15, 12 + r.m0 / 60), 0.5]),
  renderItem: (params, api) => {
    const r = runs[params.dataIndex];
    const x0 = 12 + r.m0 / 60, x1 = Math.min(12 + r.m1 / 60, 15.01);
    const box = (xa, xb, ya, yb, fill) => {
      const a = api.coord([xa, yb]), b = api.coord([xb, ya]);
      return {type: 'rect', shape: {x: a[0], y: a[1], width: b[0] - a[0], height: b[1] - a[1]}, style: {fill}};
    };
    const ch = [];
    if (r.f === 5) ch.push(box(x0, x1, Y4[0], Y4[1], 'rgba(255,255,0,0.5)'));
    else if (r.f === 4) {
      ch.push(box(x0, x1, Y4[0], Y4[1], 'rgba(205,205,205,0.5)'));
      ch.push(box(x0, x1, 0.55, 1.5, 'rgba(150,77,203,0.15)'));
      const poly = [];
      for (let m = r.m0; m < r.m1; m++) {
        poly.push(api.coord([12 + m / 60, shadeTop[m]]));
        poly.push(api.coord([12 + (m + 1) / 60, shadeTop[m]]));
      }
      poly.push(api.coord([x1, -0.125])); poly.push(api.coord([x0, -0.125]));
      ch.push({type: 'polygon', shape: {points: poly}, style: {fill: 'rgba(247,147,30,0.12)'}});
    }
    return {type: 'group', children: ch};
  }});

// Panel 5
series.push({type: 'scatter', xAxisIndex: 4, yAxisIndex: 8, silent: true, animation: false, z: 3,
  data: dqFlag.map((f, m) => [12 + (m + 0.5) / 60, f]), symbol: 'circle', symbolSize: 8,
  itemStyle: {color: CPHY}});

// Legends (drawn as graphic elements)
function legend(x1, x2, xt, lines, texts) {
  const els = [];
  lines.forEach(l => els.push({type: 'line', z: 100, shape: {x1, y1: Y(l.y), x2, y2: Y(l.y)}, style: {stroke: l.c, lineWidth: l.w}}));
  texts.forEach(t => els.push({type: 'text', z: 100, x: xt, y: Y(t.y), style: {text: t.t, fill: '#000', fontSize: LEG_FS, fontFamily: FONT, verticalAlign: 'middle', align: 'left'}}));
  return els;
}
const graphics = [].concat(
  legend(1940, 2172, 2199,
    [{y: 986, c: C2C, w: LW2}, {y: 1045, c: C3C, w: LW3}, {y: 1104, c: CPHY, w: LWP}],
    [{y: 986, t: 'MWR 2C (tan = wet window)'}, {y: 1045, t: 'MWR 3C'}, {y: 1104, t: 'Phy-Iter'}]),
  legend(1806, 2041, 2065,
    [{y: 1519, c: C2C, w: LW2}, {y: 1577, c: C3C, w: LW3}, {y: 1636, c: CPHY, w: LWP}],
    [{y: 1519, t: 'MWR2C'}, {y: 1577, t: 'MWR 3C'}, {y: 1636, t: 'Phy-Iter'}]),
  legend(1329, 1564, 1588,
    [{y: 2659, c: C2C, w: LW2}, {y: 2718, c: C3C, w: LW3}, {y: 2831, c: CPHY, w: LWP}],
    [{y: 2659, t: 'MWR 2C PWV'}, {y: 2718, t: 'MWR 3C PWV'}, {y: 2775, t: 'Phy-Iter PWV'}, {y: 2831, t: '(tan = MWR 2C only)'}, {y: 2887, t: '(brown = MWR 3C only)'}]),
  legend(547, 781, 807,
    [{y: 4339, c: C2C, w: LW2}, {y: 4396, c: C3C, w: LW3}, {y: 4453, c: CPHY, w: LWP}, {y: 4512, c: CADI, w: 4}],
    [{y: 4339, t: 'MWR 2C LWP'}, {y: 4396, t: 'MWR 3C LWP'}, {y: 4453, t: 'Phy-Iter LWP'}, {y: 4512, t: 'Adiabatic LWP'}])
);

const chart = echarts.init(document.getElementById('c'), null, {renderer: 'svg', width: 3825, height: VIEW_H});
chart.setOption({
  animation: false,
  backgroundColor: '#ffffff',
  textStyle: {fontFamily: FONT},
  grid: grids, xAxis: xAxes, yAxis: yAxes, series,
  graphic: graphics
});
</script></body></html>
